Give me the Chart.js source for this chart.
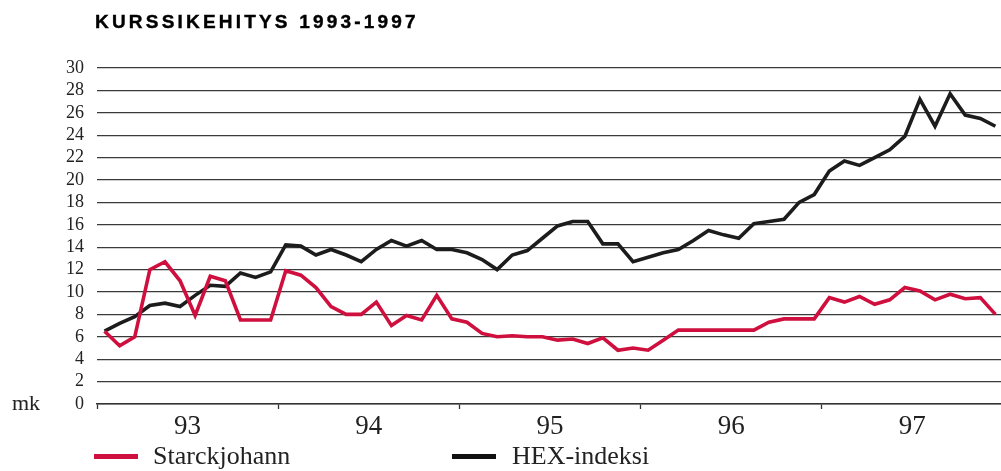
<!DOCTYPE html>
<html>
<head>
<meta charset="utf-8">
<script src="https://cdn.jsdelivr.net/npm/chart.js@4.4.1/dist/chart.umd.min.js"></script>
<style>
    body { margin: 0; background: #fff; }
    #wrap { position: relative; width: 1001px; height: 471px; overflow: hidden; }
    #title {
        position: absolute; left: 95px; top: 12px;
        font: 900 19px "Liberation Sans", Arial, sans-serif;
        letter-spacing: 3.2px; line-height: 19px; color: #000;
        -webkit-text-stroke: 0.4px #000;
    }
    .leg { position: absolute; top: 443px; font: 26px "Liberation Serif", serif; line-height: 26px; color: #222; }
    .sw { position: absolute; top: 454px; width: 44px; height: 5px; }
</style>
</head>
<body>
<div id="wrap">
    <div id="title">KURSSIKEHITYS 1993-1997</div>
    <canvas id="chart" width="1001" height="471"></canvas>
    <div class="sw" style="left:94px;background:#cf0f3d"></div>
    <div class="leg" style="left:153px">Starckjohann</div>
    <div class="sw" style="left:452px;background:#111"></div>
    <div class="leg" style="left:512px">HEX-indeksi</div>
</div>

<script>
    // kuukausittaiset arvot 1/93 - 12/97
    const years = ['93', '94', '95', '96', '97'];
    const starckjohann = [
        6.5, 5.2, 6.0, 12.0, 12.7, 11.0, 7.9, 11.4, 11.0, 7.5, 7.5, 7.5,
        11.9, 11.5, 10.4, 8.7, 8.0, 8.0, 9.1, 7.0, 7.9, 7.5, 9.7, 7.6,
        7.3, 6.3, 6.0, 6.1, 6.0, 6.0, 5.7, 5.8, 5.4, 5.9, 4.8, 5.0,
        4.8, 5.7, 6.6, 6.6, 6.6, 6.6, 6.6, 6.6, 7.3, 7.6, 7.6, 7.6,
        9.5, 9.1, 9.6, 8.9, 9.3, 10.4, 10.1, 9.3, 9.8, 9.4, 9.5, 8.0
    ];
    const hexIndeksi = [
        6.5, 7.2, 7.8, 8.8, 9.0, 8.7, 9.7, 10.6, 10.5, 11.7, 11.3, 11.8,
        14.2, 14.1, 13.3, 13.8, 13.3, 12.7, 13.8, 14.6, 14.1, 14.6, 13.8, 13.8,
        13.5, 12.9, 12.0, 13.3, 13.7, 14.8, 15.9, 16.3, 16.3, 14.3, 14.3, 12.7,
        13.1, 13.5, 13.8, 14.6, 15.5, 15.1, 14.8, 16.1, 16.3, 16.5, 18.0, 18.7,
        20.8, 21.7, 21.3, 22.0, 22.7, 23.9, 27.2, 24.8, 27.7, 25.8, 25.5, 24.8
    ];

    const toPoints = arr => arr.map((v, i) => ({ x: i + 0.5, y: v }));

    const mkLabel = {
        id: 'mkLabel',
        afterDraw(chart) {
            const c = chart.ctx;
            c.save();
            c.font = '22px "Liberation Serif", serif';
            c.fillStyle = '#222';
            c.textBaseline = 'alphabetic';
            c.fillText('mk', 12, 410);
            c.restore();
        }
    };

    const ctx = document.getElementById('chart').getContext('2d');
    new Chart(ctx, {
        type: 'line',
        data: {
            datasets: [
                { label: 'Starckjohann', data: toPoints(starckjohann), borderColor: '#cf0f3d' },
                { label: 'HEX-indeksi', data: toPoints(hexIndeksi), borderColor: '#1c1c1c' }
            ]
        },
        options: {
            responsive: false,
            animation: false,
            layout: { padding: { left: 0, right: 0, top: 68, bottom: 27 } },
            elements: {
                line: { borderWidth: 3.6, tension: 0, borderJoinStyle: 'miter', fill: false },
                point: { radius: 0 }
            },
            plugins: { legend: { display: false }, tooltip: { enabled: false } },
            scales: {
                x: {
                    type: 'linear',
                    min: 0,
                    max: 59.87,
                    afterFit: s => { s.height = 40; },
                    afterBuildTicks: s => {
                        s.ticks = [0, 6, 12, 18, 24, 30, 36, 42, 48, 54].map(v => ({ value: v }));
                    },
                    grid: {
                        drawOnChartArea: false,
                        tickLength: 5,
                        tickWidth: 1.3,
                        tickColor: c => (c.tick && c.tick.value % 12 === 0) ? '#333' : 'rgba(0,0,0,0)'
                    },
                    border: { display: true, color: '#333', width: 1.5 },
                    ticks: {
                        autoSkip: false,
                        maxRotation: 0,
                        padding: 2,
                        color: '#222',
                        font: { family: '"Liberation Serif", serif', size: 27 },
                        callback: v => (v % 12 === 6) ? years[(v - 6) / 12] : ''
                    }
                },
                y: {
                    min: 0,
                    max: 30,
                    afterFit: s => { s.width = 97; },
                    grid: { color: '#3a3a3a', lineWidth: 1.2, drawTicks: false },
                    border: { display: false },
                    ticks: {
                        stepSize: 2,
                        autoSkip: false,
                        padding: 13,
                        color: '#222',
                        font: { family: '"Liberation Serif", serif', size: 18 }
                    }
                }
            }
        },
        plugins: [mkLabel]
    });
</script>
</body>
</html>
